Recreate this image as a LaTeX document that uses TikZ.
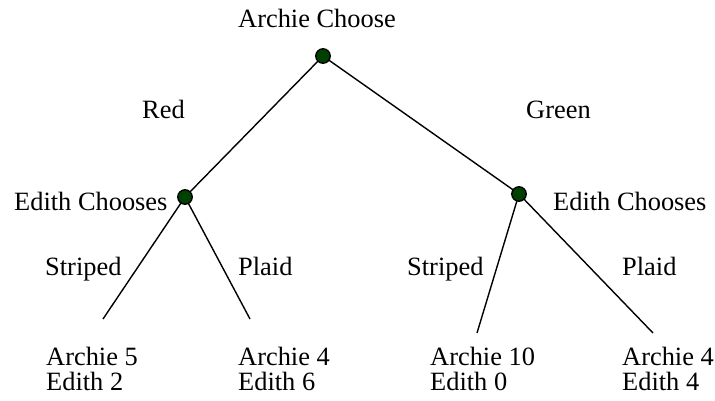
\documentclass[tikz,border=0pt]{standalone}
\usepackage{fontspec}
\setmainfont{Liberation Serif}
\begin{document}
\begin{tikzpicture}[x=1pt,y=-1pt,
  dec/.style={circle,draw=black,line width=1.3pt,fill=decgreen,minimum size=14.5pt,inner sep=0pt},
  edge/.style={line width=1.4pt,draw=black},
  lbl/.style={anchor=base west,inner sep=0pt,font=\fontsize{26.4}{26.4}\selectfont}]
\definecolor{decgreen}{RGB}{0,64,0}
\useasboundingbox (0,0) rectangle (715,400);
% decision nodes and leaf ends
\coordinate (ll) at (103,319);
\coordinate (lr) at (250,319);
\coordinate (rl) at (477,333);
\coordinate (rr) at (653,333);
\path (323,56) coordinate (rootc) (185,197) coordinate (lc) (519,194) coordinate (rc);
\draw[edge] (rootc) -- (lc);
\draw[edge] (rootc) -- (rc);
\draw[edge] (lc) -- (ll);
\draw[edge] (lc) -- (lr);
\draw[edge] (rc) -- (rl);
\draw[edge] (rc) -- (rr);
\node[dec] (root) at (rootc) {};
\node[dec] (left) at (lc) {};
\node[dec] (right) at (rc) {};
% labels
\node[lbl] (t0) at (238,27) {Archie Choose};
\node[lbl] (tred) at (142,118) {Red};
\node[lbl] (tgreen) at (526,118) {Green};
\node[lbl] (tel) at (14,210) {Edith Chooses};
\node[lbl] (ter) at (553,210) {Edith Chooses};
\node[lbl] (s1) at (45,275) {Striped};
\node[lbl] (p1) at (238,275) {Plaid};
\node[lbl] (s2) at (407,275) {Striped};
\node[lbl] (p2) at (622,275) {Plaid};
\node[lbl] (a1) at (46,365) {Archie 5};
\node[lbl] (e1) at (46,390) {Edith 2};
\node[lbl] (a2) at (238,365) {Archie 4};
\node[lbl] (e2) at (238,390) {Edith 6};
\node[lbl] (a3) at (430,365) {Archie 10};
\node[lbl] (e3) at (430,390) {Edith 0};
\node[lbl] (a4) at (622,365) {Archie 4};
\node[lbl] (e4) at (622,390) {Edith 4};
\end{tikzpicture}
\end{document}
